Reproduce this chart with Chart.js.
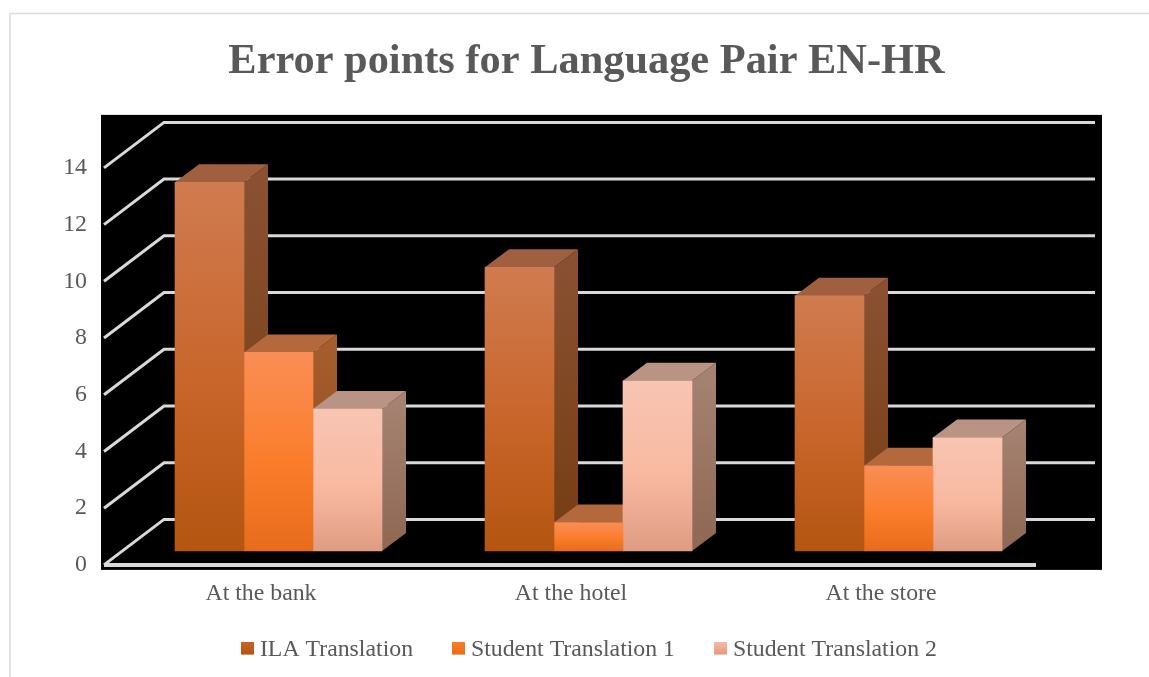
<!DOCTYPE html>
<html>
<head>
<meta charset="utf-8">
<style>
  html, body { margin: 0; background: #fff; }
  #wrap { position: relative; width: 1149px; height: 677px; overflow: hidden; }
</style>
<script src="https://cdn.jsdelivr.net/npm/chart.js@4/dist/chart.umd.min.js"></script>
</head>
<body>
<div id="wrap"><canvas id="errorChart" width="1149" height="677"></canvas></div>
<script>
const titleText = "Error points for Language Pair EN-HR";
const categories = ["At the bank", "At the hotel", "At the store"];
const seriesNames = ["ILA Translation", "Student Translation 1", "Student Translation 2"];
const ilaValues = [13, 10, 9];
const student1Values = [7, 1, 3];
const student2Values = [5, 6, 4];
const yTickStep = 2;
const yMax = 14;

// top, middle, bottom of each colour band
const frontStops = [
  ["#d07b50", "#c8652a", "#b45511"],
  ["#f98e56", "#fb7d2b", "#e76c1b"],
  ["#f7c5b3", "#f9b9a1", "#df9c83"],
];
const sideStops = [
  ["#8a5233", "#763c12"],
  ["#a85e30", "#8f4a15"],
  ["#a68473", "#8f6753"],
];
const topColors = ["#a05f3e", "#b4693c", "#b99485"];

const textColor = "#595959";
const lineColor = "#d9d9d9";
const serif = '"Liberation Serif", serif';

// offset of the bars and of the back wall from the front plane
const barShift = { x: 19.5, y: -14 };
const barDepth = { x: 24, y: -18 };
const wallDepth = { x: 60, y: -45.5 };

// legend marker, taller than the square so that it sits a bit above the text centre
function swatch(i) {
  const c = document.createElement("canvas");
  c.width = 13;
  c.height = 17;
  const g = c.getContext("2d");
  const grad = g.createLinearGradient(0, 0, 0, 13);
  grad.addColorStop(0, frontStops[i][1]);
  grad.addColorStop(1, frontStops[i][2]);
  g.fillStyle = grad;
  g.fillRect(0, 0, 13, 13);
  return c;
}

function frontFill(i) {
  return (ctx) => {
    const area = ctx.chart.chartArea;
    if (!ctx.parsed || !area) return frontStops[i][1];
    const y = ctx.chart.scales.y;
    const grad = ctx.chart.ctx.createLinearGradient(0, y.getPixelForValue(ctx.parsed.y), 0, y.getPixelForValue(0));
    grad.addColorStop(0, frontStops[i][0]);
    grad.addColorStop(0.55, frontStops[i][1]);
    grad.addColorStop(1, frontStops[i][2]);
    return grad;
  };
}

function polygon(ctx, points, fill) {
  ctx.beginPath();
  points.forEach((p, n) => (n ? ctx.lineTo(p[0], p[1]) : ctx.moveTo(p[0], p[1])));
  ctx.closePath();
  ctx.fillStyle = fill;
  ctx.fill();
}

const room3d = {
  id: "room3d",
  afterLayout(chart) {
    // axis labels get clipped to the axis box, let them run into the legend's empty padding
    chart.scales.x.bottom = chart.height;
    // legend is centred a little right of the title
    chart.legend.left += 11;
  },
  beforeDatasetsDraw(chart) {
    const { ctx, chartArea, scales } = chart;
    // picture frame and black plot background
    ctx.save();
    ctx.strokeStyle = "#dcdcdc";
    ctx.lineWidth = 1.5;
    ctx.beginPath();
    ctx.moveTo(10, 677);
    ctx.lineTo(10, 13.5);
    ctx.lineTo(1149, 13.5);
    ctx.stroke();
    ctx.fillStyle = "#000";
    ctx.fillRect(chartArea.left - 3, chartArea.top - 53, chartArea.right - chartArea.left + 71, chartArea.bottom - chartArea.top + 58);

    ctx.strokeStyle = lineColor;
    ctx.lineWidth = 3;
    scales.y.ticks.forEach((tick) => {
      const y = scales.y.getPixelForValue(tick.value);
      ctx.beginPath();
      ctx.moveTo(chartArea.left, y);
      ctx.lineTo(chartArea.left + wallDepth.x, y + wallDepth.y);
      ctx.lineTo(chartArea.right + wallDepth.x + 1, y + wallDepth.y);
      ctx.stroke();
    });
    ctx.lineWidth = 4;
    ctx.beginPath();
    ctx.moveTo(chartArea.left, chartArea.bottom);
    ctx.lineTo(chartArea.right + 2, chartArea.bottom);
    ctx.stroke();

    // sides and tops go first in series order, the library then paints the fronts over them
    ctx.translate(barShift.x, barShift.y);
    [0, 1, 2].forEach((i) => {
      chart.getDatasetMeta(i).data.forEach((bar) => {
        const p = bar.getProps(["x", "y", "base", "width"], true);
        const r = p.x + p.width / 2;
        const l = p.x - p.width / 2;
        const side = ctx.createLinearGradient(0, p.y + barDepth.y, 0, p.base);
        side.addColorStop(0, sideStops[i][0]);
        side.addColorStop(1, sideStops[i][1]);
        polygon(ctx, [[r, p.y], [r + barDepth.x, p.y + barDepth.y], [r + barDepth.x, p.base + barDepth.y], [r, p.base]], side);
        polygon(ctx, [[l, p.y], [l + barDepth.x, p.y + barDepth.y], [r + barDepth.x, p.y + barDepth.y], [r, p.y]], topColors[i]);
      });
    });
    ctx.restore();
  },
  beforeDatasetDraw(chart) {
    chart.ctx.save();
    chart.ctx.translate(barShift.x, barShift.y);
  },
  afterDatasetDraw(chart) {
    chart.ctx.restore();
  },
};

new Chart(document.getElementById("errorChart"), {
  type: "bar",
  data: {
    labels: categories,
    datasets: [ilaValues, student1Values, student2Values].map((values, i) => ({
      label: seriesNames[i],
      data: values,
      backgroundColor: frontFill(i),
      clip: false,
      barThickness: 69,
    })),
  },
  plugins: [room3d],
  options: {
    responsive: false,
    animation: false,
    layout: { padding: { left: 24, right: 0, top: 31, bottom: 5 } },
    plugins: {
      tooltip: { enabled: false },
      title: {
        display: true,
        text: titleText,
        color: textColor,
        font: { family: serif, size: 42.4, weight: "bold" },
        padding: { top: 6, bottom: 80 },
      },
      legend: {
        position: "bottom",
        labels: {
          usePointStyle: true,
          pointStyleWidth: 1,
          padding: 45,
          color: textColor,
          font: { family: serif, size: 23.8 },
          generateLabels: () => seriesNames.map((name, i) => ({
            text: name,
            pointStyle: swatch(i),
            datasetIndex: i,
            fontColor: textColor,
            lineWidth: 0,
            strokeStyle: "transparent",
          })),
        },
      },
    },
    scales: {
      x: {
        grid: { display: false },
        border: { display: false },
        afterFit: (scale) => { scale.height = 28.3; },
        ticks: { color: textColor, font: { family: serif, size: 23.8 }, padding: 6.5, labelOffset: 2, maxRotation: 0 },
      },
      y: {
        min: 0,
        max: yMax,
        grid: { display: false },
        border: { display: false },
        afterFit: (scale) => { scale.width = 80; },
        ticks: { stepSize: yTickStep, color: textColor, font: { family: serif, size: 23.8 }, padding: 9 },
      },
      // reserves the room the back wall needs on the right
      depth: {
        position: "right",
        grid: { display: false },
        border: { display: false },
        ticks: { display: false },
        afterFit: (scale) => { scale.width = 115; },
      },
    },
  },
});
</script>
</body>
</html>
